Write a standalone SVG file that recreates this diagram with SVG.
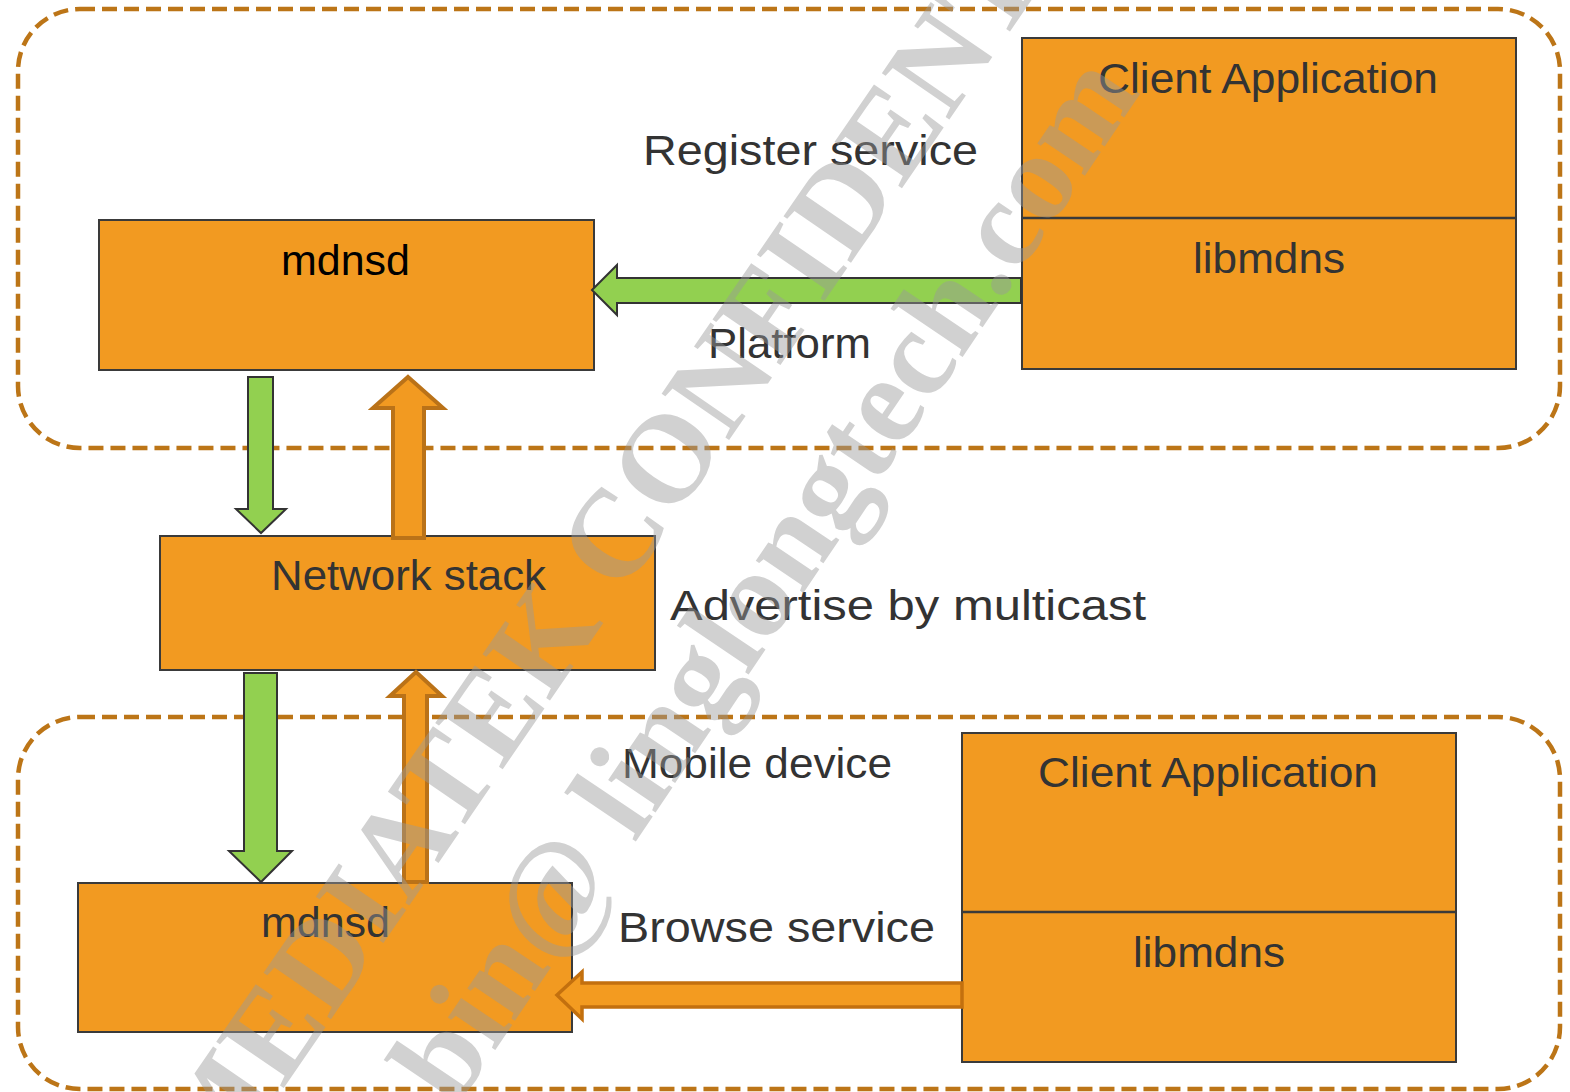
<svg xmlns="http://www.w3.org/2000/svg" width="1570" height="1092" viewBox="0 0 1570 1092">
  <style>
    .zone { fill: none; stroke: #BC7517; stroke-width: 4.5; stroke-dasharray: 15 7; }
    .box { fill: #F29A21; stroke: #3A3A3A; stroke-width: 2; }
    .div { stroke: #3A3A3A; stroke-width: 2.5; }
    .lbl { font-family: "Liberation Sans", Arial, sans-serif; font-size: 42px; fill: #333333; }
    .dark { fill: #000000; }
    .green { fill: #92D050; stroke: #333333; stroke-width: 2; stroke-linejoin: miter; }
    .orange { fill: #F29A21; stroke: #BA7218; stroke-width: 4; stroke-linejoin: miter; }
    .orange2 { fill: #F39B20; stroke: #C3700E; stroke-width: 3.5; stroke-linejoin: miter; }
    .wm { font-family: "Liberation Serif", "Times New Roman", serif; font-weight: bold; font-size: 125px; fill: #9A9A9A; opacity: 0.45; }
  </style>

  <!-- dashed group frames -->
  <g id="platform-zone">
    <rect class="zone" x="18" y="9" width="1542" height="439" rx="62" ry="62"/>
  </g>
  <g id="mobile-zone">
    <rect class="zone" x="18" y="717" width="1542" height="372" rx="62" ry="62"/>
  </g>

  <!-- platform side -->
  <g id="mdnsd-top">
    <rect class="box" x="99" y="220" width="495" height="150"/>
    <text class="lbl dark" x="281" y="275" textLength="129" lengthAdjust="spacingAndGlyphs">mdnsd</text>
  </g>
  <g id="client-top">
    <rect class="box" x="1022" y="38" width="494" height="331"/>
    <line class="div" x1="1022" y1="218" x2="1516" y2="218"/>
    <text class="lbl" x="1098" y="93" textLength="340" lengthAdjust="spacingAndGlyphs">Client Application</text>
    <text class="lbl" x="1193" y="273" textLength="152" lengthAdjust="spacingAndGlyphs">libmdns</text>
  </g>

  <!-- shared network stack -->
  <g id="network-stack">
    <rect class="box" x="160" y="536" width="495" height="134"/>
    <text class="lbl" x="271" y="590" textLength="275" lengthAdjust="spacingAndGlyphs">Network stack</text>
  </g>

  <!-- mobile side -->
  <g id="mdnsd-bottom">
    <rect class="box" x="78" y="883" width="494" height="149"/>
    <text class="lbl" x="261" y="937" textLength="129" lengthAdjust="spacingAndGlyphs">mdnsd</text>
  </g>
  <g id="client-bottom">
    <rect class="box" x="962" y="733" width="494" height="329"/>
    <line class="div" x1="962" y1="912" x2="1456" y2="912"/>
    <text class="lbl" x="1038" y="787" textLength="340" lengthAdjust="spacingAndGlyphs">Client Application</text>
    <text class="lbl" x="1133" y="967" textLength="152" lengthAdjust="spacingAndGlyphs">libmdns</text>
  </g>

  <!-- connectors -->
  <g id="connectors">
    <path class="green" d="M592,290 L617,265 V278 H1021 V303 H617 V315 Z"/>
    <path class="green" d="M248,377 H273 V509 H286 L261,533 L236,509 H248 Z"/>
    <path class="orange" d="M408,377 L443,408 H424 V538 H393 V408 H373 Z"/>
    <path class="green" d="M244,673 H277 V851 H292 L261,882 L229,851 H244 Z"/>
    <path class="orange" d="M416,672 L442,696 H427 V882 H404 V696 H390 Z"/>
    <path class="orange2" d="M557,995 L582,972 V983 H962 V1007 H582 V1019 Z"/>
  </g>

  <!-- free labels -->
  <g id="labels">
    <text class="lbl" x="643" y="165" textLength="335" lengthAdjust="spacingAndGlyphs">Register service</text>
    <text class="lbl" x="708" y="358" textLength="163" lengthAdjust="spacingAndGlyphs">Platform</text>
    <text class="lbl" x="670" y="620" textLength="476" lengthAdjust="spacingAndGlyphs">Advertise by multicast</text>
    <text class="lbl" x="622" y="778" textLength="270" lengthAdjust="spacingAndGlyphs">Mobile device</text>
    <text class="lbl" x="618" y="942" textLength="317" lengthAdjust="spacingAndGlyphs">Browse service</text>
  </g>

  <!-- watermark -->
  <g id="watermark">
    <text class="wm" text-anchor="middle" transform="translate(694,491) rotate(-55.5)">MEDIATEK CONFIDENTIAL</text>
    <text class="wm" text-anchor="middle" transform="translate(798,601) rotate(-56)">bin@ linglongtech.com</text>
  </g>
</svg>
